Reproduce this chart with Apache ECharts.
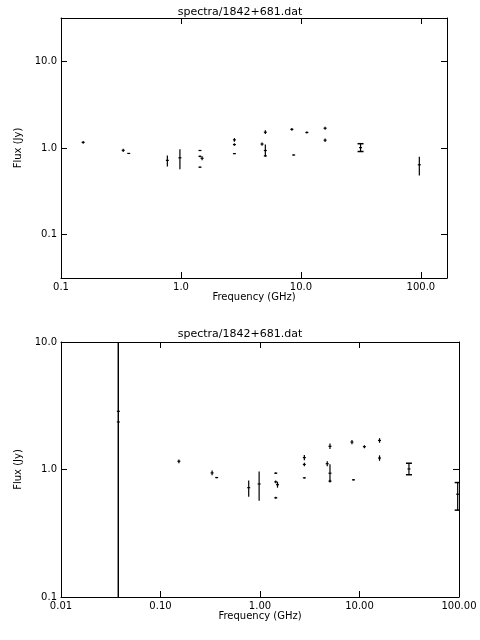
<!DOCTYPE html><html><head><meta charset="utf-8">
<script src="https://cdn.jsdelivr.net/npm/echarts@6/dist/echarts.min.js"></script>
<style>body{margin:0;background:#fff}#c{width:480px;height:640px}</style></head><body><div id="c"></div>
<script>
const title = 'spectra/1842+681.dat';
const freq  = [0.0377,0.0377,0.153,0.33,0.367,0.77,0.98,1.44,1.44,1.44,1.5,2.79,2.79,2.79,4.74,5.05,5.05,5.05,8.4,8.7,11.2,15.9,15.9,31.4,97];
const flux  = [2.86,2.36,1.16,0.94,0.865,0.72,0.77,0.935,0.80,0.60,0.76,1.24,1.095,0.86,1.11,1.52,0.935,0.81,1.64,0.83,1.51,1.69,1.23,1.01,0.64];
const errLo = [0.001,0.001,1.12,0.90,0.855,0.61,0.57,0.92,0.78,0.59,0.72,1.18,1.06,0.85,1.06,1.45,0.80,0.79,1.58,0.82,1.47,1.62,1.17,0.91,0.48];
const errHi = [1000,1000,1.20,0.98,0.875,0.82,0.965,0.95,0.82,0.61,0.80,1.30,1.13,0.87,1.16,1.60,1.10,0.83,1.70,0.84,1.55,1.76,1.29,1.12,0.79];
const capped = [0,0,0,0,0,0,0,0,0,0,0,0,0,0,0,0,0,0,0,0,0,0,0,1,2];
const topX = ['0.1','1.0','10.0','100.0'];
const botX = ['0.01','0.10','1.00','10.00','100.00'];
const yLab = ['0.1','1.0','10.0'];

const data = freq.map((f,i)=>[f,flux[i],errLo[i],errHi[i],capped[i]]);
const font = {fontFamily:'DejaVu Sans',fontSize:10,color:'#000'};
function isPow(v){const e=Math.log10(v);return Math.abs(e-Math.round(e))<1e-6;}
function xAxis(grid,min,max,labels,show){
  const fmt = v=>{if(!isPow(v))return '';const e=Math.round(Math.log10(v));const idx=labels===topX?e+1:e+2;return labels[idx]||'';};
  return {type:'log',gridIndex:grid,min,max,logBase:10,position:show?'bottom':'top',
    name:show?'Frequency (GHz)':'',nameLocation:'middle',nameGap:14,nameTextStyle:font,
    axisLine:{onZero:false,lineStyle:{color:'#000'}},axisTick:{inside:true,length:6,lineStyle:{color:'#000'}},
    axisLabel:{show,formatter:fmt,...font,margin:4},splitLine:{show:false}};
}
function yAxis(grid,min,max,show){
  return {type:'log',gridIndex:grid,min,max,position:show?'left':'right',
    name:show?'Flux (Jy)':'',nameLocation:'middle',nameGap:30,nameTextStyle:font,
    axisLine:{onZero:false,lineStyle:{color:'#000'}},axisTick:{inside:true,length:6,lineStyle:{color:'#000'}},
    axisLabel:{show,formatter:v=>{if(!isPow(v))return '';const e=Math.round(Math.log10(v));return yLab[e+1]||'';},...font,margin:4},splitLine:{show:false}};
}
function render(params,api){
  const x=api.value(0),y=api.value(1),lo=api.value(2),hi=api.value(3),c=api.value(4);
  const cap = c===1 || (c===2 && params.seriesIndex===1);
  const p=api.coord([x,y]),a=api.coord([x,lo]),b=api.coord([x,hi]);
  const st={stroke:'#000',lineWidth:1.2};
  const ch=[{type:'line',shape:{x1:p[0],y1:a[1],x2:p[0],y2:b[1]},style:st},
    {type:'line',shape:{x1:p[0]-1.5,y1:p[1],x2:p[0]+1.5,y2:p[1]},style:st}];
  if(cap){ch.push({type:'line',shape:{x1:p[0]-3,y1:a[1],x2:p[0]+3,y2:a[1]},style:{stroke:'#000',lineWidth:1.5}});
    ch.push({type:'line',shape:{x1:p[0]-3,y1:b[1],x2:p[0]+3,y2:b[1]},style:{stroke:'#000',lineWidth:1.5}});}
  return {type:'group',children:ch};
}
const chart=echarts.init(document.getElementById('c'));
chart.setOption({
  animation:false,
  title:[{text:title,left:'center',top:2,textStyle:{...font,fontSize:11,fontWeight:'normal'}},
         {text:title,left:'center',top:324,textStyle:{...font,fontSize:11,fontWeight:'normal'}}],
  grid:[{left:61,right:33,top:18,height:260},{left:61,right:21,top:342,height:255}],
  xAxis:[xAxis(0,0.1,165,topX,true),xAxis(0,0.1,165,topX,false),xAxis(1,0.01,100,botX,true),xAxis(1,0.01,100,botX,false)],
  yAxis:[yAxis(0,0.0316,31.6,true),yAxis(0,0.0316,31.6,false),yAxis(1,0.1,10,true),yAxis(1,0.1,10,false)],
  series:[
    {type:'custom',xAxisIndex:0,yAxisIndex:0,data:data.filter(d=>d[0]>=0.1),renderItem:render,clip:true},
    {type:'custom',xAxisIndex:2,yAxisIndex:2,data,renderItem:render,clip:true}
  ]
});
</script></body></html>
